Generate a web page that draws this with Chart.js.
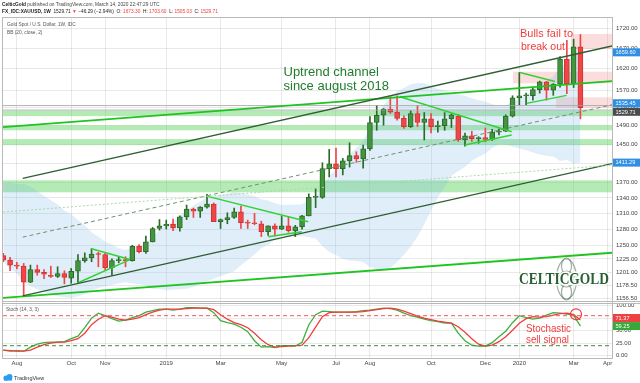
<!DOCTYPE html>
<html>
<head>
<meta charset="utf-8">
<script src="https://cdn.jsdelivr.net/npm/chart.js@4.4.1/dist/chart.umd.min.js"></script>
<style>
html,body{margin:0;padding:0;background:#ffffff;overflow:hidden;}
#box{position:relative;width:640px;height:383px;}
canvas{display:block;}
</style>
</head>
<body>
<div id="box"><canvas id="chart" width="640" height="383"></canvas></div>
<script>
// ---------------- DATA ----------------
const weeks = ['2018-07-23','2018-07-30','2018-08-06','2018-08-13','2018-08-20','2018-08-27','2018-09-03','2018-09-10','2018-09-17','2018-09-24',
'2018-10-01','2018-10-08','2018-10-15','2018-10-22','2018-10-29','2018-11-05','2018-11-12','2018-11-19','2018-11-26','2018-12-03',
'2018-12-10','2018-12-17','2018-12-24','2018-12-31','2019-01-07','2019-01-14','2019-01-21','2019-01-28','2019-02-04','2019-02-11',
'2019-02-18','2019-02-25','2019-03-04','2019-03-11','2019-03-18','2019-03-25','2019-04-01','2019-04-08','2019-04-15','2019-04-22',
'2019-04-29','2019-05-06','2019-05-13','2019-05-20','2019-05-27','2019-06-03','2019-06-10','2019-06-17','2019-06-24','2019-07-01',
'2019-07-08','2019-07-15','2019-07-22','2019-07-29','2019-08-05','2019-08-12','2019-08-19','2019-08-26','2019-09-02','2019-09-09',
'2019-09-16','2019-09-23','2019-09-30','2019-10-07','2019-10-14','2019-10-21','2019-10-28','2019-11-04','2019-11-11','2019-11-18',
'2019-11-25','2019-12-02','2019-12-09','2019-12-16','2019-12-23','2019-12-30','2020-01-06','2020-01-13','2020-01-20','2020-01-27',
'2020-02-03','2020-02-10','2020-02-17','2020-02-24','2020-03-02','2020-03-09'];

const opens = [1231,1223,1214,1212,1184,1206,1201,1196,1194,1199,
1191,1203,1222,1227,1234,1233,1209,1222,1223,1222,
1248,1238,1256,1281,1286,1289,1282,1303,1318,1314,
1322,1328,1294,1298,1302,1313,1292,1291,1290,1275,
1286,1280,1286,1277,1284,1305,1341,1341,1399,1409,
1399,1415,1426,1419,1440,1497,1513,1527,1520,1506,
1488,1517,1497,1505,1488,1490,1505,1511,1459,1468,
1462,1464,1460,1476,1478,1511,1552,1557,1557,1571,
1589,1570,1584,1643,1585,1673.30];
const highs = [1235,1228,1219,1217,1214,1214,1206,1212,1211,1204,
1208,1233,1236,1243,1237,1236,1225,1229,1229,1250,
1251,1267,1283,1298,1297,1299,1305,1326,1320,1323,
1347,1330,1299,1311,1320,1324,1297,1310,1295,1286,
1290,1304,1304,1287,1306,1348,1358,1411,1439,1442,
1420,1453,1434,1448,1510,1535,1528,1555,1557,1512,
1523,1535,1519,1517,1500,1519,1516,1515,1474,1478,
1466,1485,1482,1483,1514,1557,1611,1563,1575,1591,
1590,1585,1649,1689,1692,1703.60];
const lows = [1220,1204,1207,1160,1183,1196,1190,1192,1192,1181,
1182,1182,1219,1220,1211,1206,1196,1218,1211,1221,
1236,1235,1256,1278,1280,1277,1276,1298,1302,1302,
1320,1294,1281,1290,1300,1281,1281,1288,1266,1268,
1267,1279,1274,1266,1280,1305,1321,1339,1382,1382,
1386,1402,1412,1400,1437,1480,1491,1517,1502,1484,
1486,1488,1459,1474,1476,1480,1486,1456,1446,1456,
1452,1455,1458,1470,1477,1509,1536,1536,1547,1563,
1547,1558,1577,1562,1576,1505.03];
const closes = [1223,1214,1212,1184,1206,1201,1198,1194,1199,1192,
1203,1222,1227,1234,1233,1209,1222,1223,1222,1248,
1238,1256,1281,1286,1289,1282,1303,1318,1314,1322,
1328,1294,1298,1302,1313,1292,1291,1290,1275,1286,
1280,1286,1277,1284,1305,1341,1341,1399,1409,1399,
1415,1426,1419,1440,1497,1513,1527,1520,1506,1488,
1517,1497,1505,1488,1490,1505,1514,1459,1468,1462,
1464,1460,1476,1478,1511,1552,1557,1557,1571,1589,
1570,1584,1643,1585,1673,1529.71];

// Bollinger Bands (20, close, 2)
const bbUpper = [1369.1,1371.4,1366.9,1367.9,1362.6,1353.2,1343.8,1335.5,1327.0,1315.6,
1308.4,1297.1,1286.8,1274.1,1265.5,1256.3,1251.2,1244.6,1241.3,1245.2,
1247.5,1254.2,1266.9,1277.3,1287.6,1294.5,1304.7,1316.2,1324.8,1332.6,
1340.7,1343.1,1345.6,1348.3,1351.8,1349.2,1346.9,1343.3,1337.4,1335.0,
1329.4,1326.3,1326.5,1326.6,1327.4,1335.1,1341.3,1363.5,1383.8,1397.1,
1412.3,1429.0,1441.9,1457.4,1484.5,1510.6,1535.7,1555.0,1567.3,1574.7,
1583.5,1586.5,1585.9,1579.6,1572.5,1569.4,1563.1,1559.7,1556.8,1551.2,
1546.9,1543.7,1537.6,1534.1,1535.6,1544.1,1551.0,1558.2,1569.3,1584.0,
1591.5,1601.8,1625.1,1632.5,1658.1,1659.6];
const bbLower = [1220.2,1208.0,1199.0,1183.9,1176.6,1171.6,1167.2,1162.6,1159.6,1158.2,
1156.6,1159.8,1163.4,1169.7,1173.8,1176.9,1178.9,1182.2,1183.6,1181.4,
1180.6,1178.1,1172.3,1172.1,1170.1,1171.3,1171.6,1172.5,1175.4,1180.6,
1185.0,1189.8,1194.4,1198.5,1203.0,1213.9,1223.1,1233.4,1244.6,1250.8,
1260.6,1266.7,1266.1,1265.8,1266.6,1264.8,1262.4,1248.3,1237.5,1231.9,
1225.4,1221.9,1221.1,1219.4,1210.7,1206.7,1205.2,1208.9,1219.7,1232.5,
1247.4,1265.5,1288.9,1315.6,1341.2,1360.7,1384.3,1393.7,1402.5,1414.4,
1423.6,1430.3,1442.0,1449.3,1449.2,1444.6,1440.7,1437.2,1432.6,1428.0,
1425.8,1424.2,1414.7,1417.0,1409.7,1411.3];

// Stochastic (14,3,3)
const stochK = [11,9,10,9,17,23,26,27,27,28,34,39,56,75,85,80,74,69,71,76,
80,87,90,93,93,91,93,96,96,95,95,86,70,66,63,57,48,30,17,18,
16,20,20,19,27,62,82,89,88,87,87,87,88,90,91,93,95,94,91,85,
80,77,73,70,68,65,65,45,30,21,19,19,26,38,49,66,80,76,73,75,
81,86,85,83,81,59.25];
const stochD = [11,10,9,9,11,17,22,25,27,27,30,34,45,62,73,80,77,73,71,73,
76,82,87,91,93,93,93,94,95,95,95,92,82,73,66,62,56,45,32,22,
17,18,19,20,21,36,57,78,86,87,87,87,87,88,90,92,94,95,93,89,
84,79,75,72,69,67,65,58,47,34,23,19,21,28,38,51,65,74,78,77,
78,81,84,85,82,71.37];
const stochLevels = [80, 20];

// axis ticks
const monthTickIdx = [2,10,15,24,32,41,49,54,63,71,76,84,89];
const monthTickLabels = ['Aug','Oct','Nov','2019','Mar','May','Jul','Aug','Oct','Dec','2020','Mar','Apr'];
const priceTicks = [1720,1670,1620,1570,1530,1490,1450,1410,1370,1340,1310,1280,1250,1225,1201,1178.5,1156.5];
const stochTicks = [100,75,50,25,0];

// drawings (bar index, price)
const channelUpperLine = [[2.857,1378.9],[89.65,1675.1]];
const channelLowerLine = [[2.857,1160.3],[89.65,1409.2]];
const channelMidLine   = [[2.857,1264.9],[89.65,1536.5]];
const supportLongLine  = [[-0.04,1156.9],[89.65,1236.1]];
const resistLongLine   = [[-0.04,1487.0],[89.65,1591.0]];
const dottedLongLine   = [[-0.04,1312.3],[89.65,1406.2]];
const flag2018Top      = [[12.87,1244.1],[18.66,1224.1]];
const flag2018Bottom   = [[10.85,1182.1],[18.66,1223.8]];
const tri2019Top       = [[29.96,1343.5],[44.92,1293.7]];
const tri2019Bottom    = [[39.03,1265.5],[43.95,1274.8]];
const tri2019bTop      = [[58.42,1554.7],[74.87,1476.7]];
const tri2019bBottom   = [[68.0,1448.1],[74.87,1469.6]];
const flag2020Top      = [[76.1,1611.0],[81.25,1589.9]];
const flag2020Bottom   = [[77.08,1539.7],[82.97,1557.9]];
const grayLevels = [1534.7, 1524.6];

const greenZones = [[1511,1523],[1480,1491],[1448,1461],[1351,1375]];
const pinkZones = [[83.6,1667.7,1704.9],[75.07,1585.6,1612.9],[81.4,1529.9,1553.5]];

const priceTags = [[1659.60,'#2f8fe3',0],[1535.45,'#2f8fe3',-2],[1529.71,'#4b4b4b',4],[1411.29,'#2f8fe3',0]];
const stochTags = [[71.37,'#ef4141',-2],[59.25,'#3aa53a',0]];
const sellCircle = [84.35, 82.8];

// ---------------- CHART ----------------
const GREEN='#43953f', GREEN_B='#2b6a29', RED='#ef4646', RED_B='#cf3434';
const up = i => closes[i] >= opens[i];
const FONT = '"Liberation Sans", Arial, sans-serif';

function seg(pts, color, width, dash, axis) {
  return {type:'line', data: pts.map(p=>({x:p[0], y:p[1]})), borderColor:color, borderWidth:width,
    borderDash: dash||[], pointRadius:0, fill:false, tension:0, yAxisID: axis||'y', order:1};
}

const datasets = [
  {type:'line', data: bbUpper.map((v,i)=>({x:i,y:v})), borderColor:'rgba(0,0,0,0)', borderWidth:0, pointRadius:0,
   fill:'+1', backgroundColor:'rgba(120,182,228,0.24)', yAxisID:'y', order:30, tension:0},
  {type:'line', data: bbLower.map((v,i)=>({x:i,y:v})), borderColor:'rgba(0,0,0,0)', borderWidth:0, pointRadius:0,
   fill:false, yAxisID:'y', order:30, tension:0},
  {type:'bar', data: weeks.map((w,i)=>({x:i, y:[lows[i], highs[i]]})), grouped:false, barThickness:1,
   backgroundColor: c => up(c.dataIndex) ? GREEN_B : RED, borderWidth:0, yAxisID:'y', order:6},
  {type:'bar', data: weeks.map((w,i)=>({x:i, y:[opens[i], closes[i]]})), grouped:false, barThickness:5, minBarLength:1,
   backgroundColor: c => up(c.dataIndex) ? GREEN : RED, borderColor: c => up(c.dataIndex) ? GREEN_B : RED_B,
   borderWidth:1, borderSkipped:false, yAxisID:'y', order:5},
  seg(dottedLongLine,'#a9d9a9',1,[2,2]),
  seg(channelMidLine,'#6f8f6f',1,[4,3]),
  seg(channelUpperLine,'#2f5e32',1.4),
  seg(channelLowerLine,'#2f5e32',1.4),
  seg(supportLongLine,'#1fc41f',1.9),
  seg(resistLongLine,'#1fc41f',1.7),
  seg(flag2018Top,'#33d133',1.5), seg(flag2018Bottom,'#33d133',1.5),
  seg(tri2019Top,'#33d133',1.5), seg(tri2019Bottom,'#33d133',1.5),
  seg(tri2019bTop,'#33d133',1.5), seg(tri2019bBottom,'#33d133',1.5),
  seg(flag2020Top,'#33d133',1.5), seg(flag2020Bottom,'#33d133',1.5),
  ...grayLevels.map(v => seg([[-0.04,v],[89.65,v]],'#a0a0a0',0.8)),
  ...stochLevels.map((v,k) => seg([[-0.04,v],[89.65,v]], k===0?'#f05a5a':'#3f8a3f',1,[4,3],'y2')),
  {type:'line', data: stochD.map((v,i)=>({x:i,y:v})), borderColor:'#f23c3c', borderWidth:1.3, pointRadius:0, fill:false, yAxisID:'y2', order:2, tension:0},
  {type:'line', data: stochK.map((v,i)=>({x:i,y:v})), borderColor:'#3fae3f', borderWidth:1.3, pointRadius:0, fill:false, yAxisID:'y2', order:3, tension:0}
];

const zonesPlugin = {
  id:'zones',
  beforeDatasetsDraw(chart) {
    const {ctx, chartArea:a, scales:{x, y}} = chart;
    ctx.save();
    ctx.beginPath(); ctx.rect(a.left, y.top, a.right-a.left, y.bottom-y.top); ctx.clip();
    ctx.fillStyle = 'rgba(95,212,95,0.47)';
    for (const [p0,p1] of greenZones) {
      const t = y.getPixelForValue(p1), b = y.getPixelForValue(p0);
      ctx.fillRect(a.left, t, a.right-a.left, b-t);
    }
    ctx.fillStyle = 'rgba(240,120,120,0.25)';
    for (const [i0,p0,p1] of pinkZones) {
      const l = x.getPixelForValue(i0), t = y.getPixelForValue(p1), b = y.getPixelForValue(p0);
      ctx.fillRect(l, t, a.right-l, b-t);
    }
    ctx.restore();
  }
};

function runs(ctx, x, y, list, size) {
  for (const r of list) {
    ctx.font = (r.b?'bold ':'') + size + 'px ' + FONT;
    ctx.fillStyle = r.c; ctx.fillText(r.t, x, y);
    x += ctx.measureText(r.t).width;
  }
}
function tag(ctx, yPix, text, bg) {
  ctx.fillStyle = bg; ctx.fillRect(613, yPix-4, 27, 8);
  ctx.fillStyle = '#ffffff'; ctx.font = '5.6px ' + FONT; ctx.textBaseline='middle';
  ctx.fillText(text, 615.5, yPix+0.3);
}

const overlayPlugin = {
  id:'overlay',
  afterDraw(chart) {
    const {ctx, chartArea:a, scales:{x, y, y2}} = chart;
    ctx.save();
    ctx.strokeStyle = '#b9b9b9'; ctx.lineWidth = 1;
    ctx.strokeRect(a.left-0.5, a.top-0.5, a.right-a.left+1, a.bottom-a.top+1);
    ctx.beginPath(); ctx.moveTo(a.left, Math.round(y.bottom)-1.5); ctx.lineTo(640, Math.round(y.bottom)-1.5);
    ctx.moveTo(a.left, Math.round(y.bottom)+0.5); ctx.lineTo(640, Math.round(y.bottom)+0.5); ctx.stroke();

    ctx.strokeStyle = '#f03c3c'; ctx.lineWidth = 1.2;
    ctx.beginPath(); ctx.arc(x.getPixelForValue(sellCircle[0]), y2.getPixelForValue(sellCircle[1]), 5.5, 0, Math.PI*2); ctx.stroke();

    ctx.textBaseline = 'alphabetic';
    ctx.fillStyle = '#f23b3b'; ctx.font = '11.5px ' + FONT;
    ctx.fillText('Bulls fail to', 520, 36.8, 53);
    ctx.fillText('break out', 521, 49.5, 44);
    ctx.fillStyle = '#1f7d2b'; ctx.font = '13px ' + FONT;
    ctx.fillText('Uptrend channel', 283.5, 75.5, 99);
    ctx.fillText('since august 2018', 283.5, 89.8, 108);
    ctx.fillStyle = '#f23b3b'; ctx.font = '11.5px ' + FONT;
    ctx.fillText('Stochastic', 526, 331.6, 45);
    ctx.fillText('sell signal', 526, 343.2, 43);

    // CelticGold logo
    ctx.strokeStyle = 'rgba(60,100,70,0.5)'; ctx.lineWidth = 1.2;
    ctx.beginPath(); ctx.ellipse(566.5, 279, 10, 20, 0, 0, Math.PI*2); ctx.stroke();
    ctx.beginPath(); ctx.arc(566.5, 279, 8, 0, Math.PI*2); ctx.stroke();
    ctx.beginPath(); ctx.ellipse(566.5, 266, 5, 8, 0, 0, Math.PI*2); ctx.stroke();
    ctx.beginPath(); ctx.ellipse(566.5, 292, 5, 8, 0, 0, Math.PI*2); ctx.stroke();
    ctx.font = 'bold 16px "Liberation Serif", "DejaVu Serif", serif';
    ctx.textBaseline = 'middle';
    ctx.lineWidth = 3; ctx.strokeStyle = '#ffffff';
    ctx.strokeText('CELTICGOLD', 519, 279.5, 90);
    ctx.fillStyle = '#2a5e33'; ctx.fillText('CELTICGOLD', 519, 279.5, 90);

    ctx.textBaseline = 'middle';
    ctx.fillStyle = '#555'; ctx.font = '4.8px ' + FONT;
    ctx.fillText('Gold Spot / U.S. Dollar, 1W, IDC', 7, 24.8);
    ctx.fillText('BB (20, close, 2)', 7, 32.6);
    ctx.fillText('Stoch (14, 3, 3)', 6, 309.3);

    runs(ctx, 2, 4.8, [{t:'CelticGold', b:true, c:'#222'}, {t:' published on TradingView.com, March 14, 2020 22:47:29 UTC', c:'#444'}], 4.8);
    runs(ctx, 2, 11.6, [{t:'FX_IDC:XAUUSD, 1W', b:true, c:'#222'}, {t:'  1529.71 ', c:'#222'}, {t:'\u25BC', c:'#ef4040'},
      {t:' \u221246.29 (\u22122.94%)  O: ', c:'#222'}, {t:'1673.30', c:'#ef4040'}, {t:'  H: ', c:'#222'}, {t:'1703.60', c:'#ef4040'},
      {t:'  L: ', c:'#222'}, {t:'1505.03', c:'#ef4040'}, {t:'  C: ', c:'#222'}, {t:'1529.71', c:'#ef4040'}], 4.8);

    for (const [v,bg,dy] of priceTags) tag(ctx, y.getPixelForValue(v)+dy, v.toFixed(2), bg);
    for (const [v,bg,dy] of stochTags) tag(ctx, y2.getPixelForValue(v)+dy, v.toFixed(2), bg);

    ctx.fillStyle = '#2a9df4';
    ctx.beginPath(); ctx.arc(6, 378, 2.6, 0, Math.PI*2); ctx.arc(9.5, 377, 3, 0, Math.PI*2); ctx.fill();
    ctx.fillRect(4, 378, 8, 2.6);
    ctx.fillStyle = '#333'; ctx.font = '5.5px ' + FONT; ctx.textBaseline = 'middle';
    ctx.fillText('TradingView', 14, 378.3);
    ctx.restore();
  }
};

const gridColor = 'rgba(0,0,0,0.085)';
new Chart(document.getElementById('chart'), {
  type:'bar',
  data:{datasets},
  options:{
    responsive:false, animation:false, events:[],
    layout:{padding:{left:3, top:18, right:0, bottom:0}},
    plugins:{legend:{display:false}, tooltip:{enabled:false}},
    scales:{
      x:{type:'linear', min:-0.044, max:89.65, offset:false,
        grid:{color:gridColor, offset:false, drawTicks:false},
        border:{display:true, color:'#9a9a9a'},
        afterBuildTicks: s => { s.ticks = monthTickIdx.map(v=>({value:v})); },
        ticks:{autoSkip:false, maxRotation:0, padding:2, color:'#444', font:{size:6, family:FONT},
          callback:(v)=>{const k=monthTickIdx.indexOf(v); return k>=0?monthTickLabels[k]:'';}},
        afterFit: s => { s.height = 25; }
      },
      y:{type:'logarithmic', position:'right', stack:'p', stackWeight:285, min:1148.2, max:1745.5,
        grid:{color:gridColor, drawTicks:false},
        border:{display:true, color:'#9a9a9a'},
        afterBuildTicks: s => { s.ticks = priceTicks.map(v=>({value:v})); },
        ticks:{autoSkip:false, padding:4, color:'#444', font:{size:6, family:FONT}, callback:v=>Number(v).toFixed(2)},
        afterFit: s => { s.width = 28; }
      },
      y2:{type:'linear', position:'right', stack:'p', stackWeight:55, min:-4.6, max:105.4,
        grid:{color:gridColor, drawTicks:false},
        border:{display:true, color:'#9a9a9a'},
        afterBuildTicks: s => { s.ticks = stochTicks.map(v=>({value:v})); },
        ticks:{autoSkip:false, padding:4, color:'#444', font:{size:6, family:FONT}, callback:v=>Number(v).toFixed(2)},
        afterFit: s => { s.width = 28; }
      }
    }
  },
  plugins:[zonesPlugin, overlayPlugin]
});
</script>
</body>
</html>
